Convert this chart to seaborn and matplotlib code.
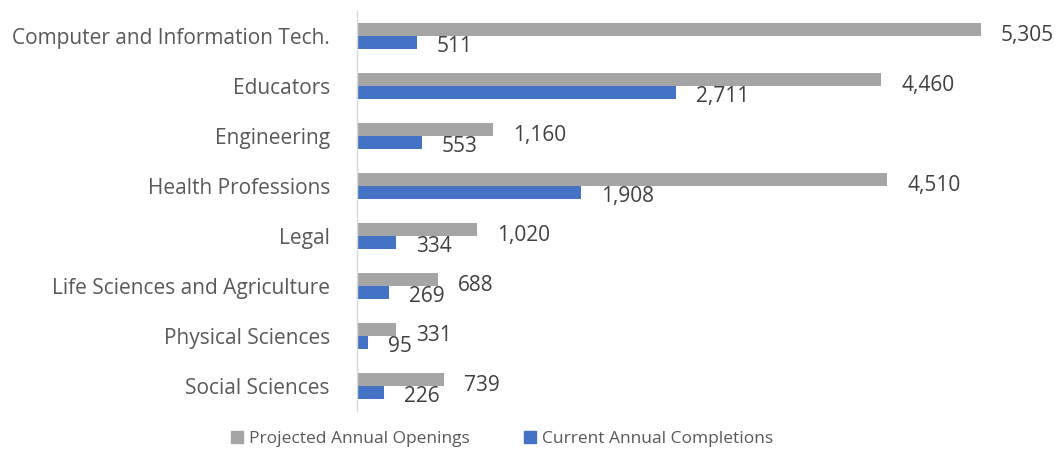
import matplotlib
matplotlib.use("Agg")
import matplotlib.pyplot as plt
import seaborn as sns
import pandas as pd

categories = ["Computer and Information Tech.", "Educators", "Engineering",
              "Health Professions", "Legal", "Life Sciences and Agriculture",
              "Physical Sciences", "Social Sciences"]
projected = [5305, 4460, 1160, 4510, 1020, 688, 331, 739]
current = [511, 2711, 553, 1908, 334, 269, 95, 226]
series = ["Projected Annual Openings", "Current Annual Completions"]
colors = ["#A5A5A5", "#4472C4"]

df = pd.DataFrame({
    "category": categories * 2,
    "value": projected + current,
    "series": [series[0]] * len(categories) + [series[1]] * len(categories),
})

sns.set_theme(style="white")
plt.rcParams["font.family"] = ["Open Sans", "DejaVu Sans"]
text_color = "#404040"
fs = 15

fig = plt.figure(figsize=(10.57, 4.75), dpi=100)
ax = fig.add_axes([357 / 1057, 1 - 411 / 475, 670 / 1057, 400 / 475])

sns.barplot(data=df, y="category", x="value", hue="series", order=categories,
            hue_order=series, palette=colors, orient="h", width=0.52,
            ax=ax, legend=False, saturation=1, linewidth=0)

ax.set_xlim(0, 5700)
ax.set_ylim(len(categories) - 0.5, -0.5)
ax.set_xlabel("")
ax.set_ylabel("")
ax.set_xticks([])
for s in ["top", "right", "bottom"]:
    ax.spines[s].set_visible(False)
ax.spines["left"].set_color("#D9D9D9")
ax.spines["left"].set_linewidth(1.0)
ax.tick_params(axis="y", length=0, pad=19.5, labelsize=fs, labelcolor="#595959")

# data labels
for i, cat in enumerate(categories):
    ax.annotate(f"{projected[i]:,}", xy=(projected[i], i - 0.13), xytext=(20, -6),
                textcoords="offset pixels", ha="left", va="center",
                fontsize=fs, color=text_color)
    ax.annotate(f"{current[i]:,}", xy=(current[i], i + 0.13), xytext=(20, -4),
                textcoords="offset pixels", ha="left", va="center",
                fontsize=fs, color=text_color)

handles = [plt.Rectangle((0, 0), 1, 1, color=c) for c in colors]
fig.legend(handles, series, loc="center", bbox_to_anchor=(502 / 1057, 1 - 439 / 475),
           ncol=2, frameon=False, handlelength=0.7, handleheight=0.7,
           handletextpad=0.35, columnspacing=3.1, fontsize=12.5,
           labelcolor="#595959")

fig.savefig("out.png", dpi=100)
